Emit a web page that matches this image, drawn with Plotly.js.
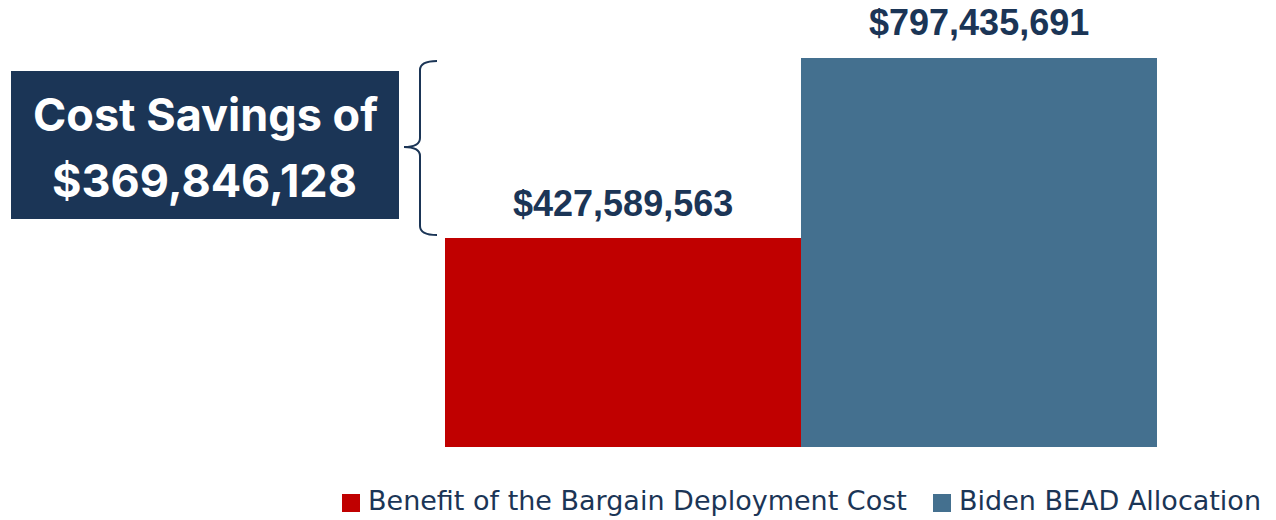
<!DOCTYPE html>
<html>
<head>
<meta charset="utf-8">
<script src="https://cdn.plot.ly/plotly-3.0.1.min.js"></script>
<style>html,body{margin:0;padding:0;background:#fff;}#chart{width:1276px;height:520px;}</style>
</head>
<body>
<div id="chart"></div>
<script>
// ---- data ----
const categories = ["Benefit of the Bargain Deployment Cost", "Biden BEAD Allocation"];
const values = [427589563, 797435691];
const barColors = ["#C00000", "#44708F"];
const savingsLabel = "Cost Savings of";

// ---- helpers ----
const W = 1276, H = 520, MB = 73, PH = H - MB;
const fmt = v => "$" + v.toLocaleString("en-US");
const px = x => x / W;
const py = y => 1 - y / PH;
const navy = "#1B3556";

const savings = values[1] - values[0];

const traces = categories.map((c, i) => ({
  type: "bar",
  name: c,
  x: [i],
  y: [values[i]],
  width: 1,
  marker: {color: barColors[i], line: {width: 0}},
  hoverinfo: "skip",
  showlegend: false
}));

const valueAnnotations = categories.map((c, i) => ({
  x: i, y: values[i], xref: "x", yref: "y",
  text: "<b>" + fmt(values[i]) + "</b>",
  showarrow: false, yanchor: "middle", yshift: 35,
  font: {family: "Liberation Sans, Arial, sans-serif", size: 36, color: navy}
}));

// manual legend (swatch x positions in px, text starts after swatch)
const legendX = [342, 933];
const legendY = 503;
const legendShapes = categories.map((c, i) => ({
  type: "rect", xref: "paper", yref: "paper",
  x0: px(legendX[i]), x1: px(legendX[i] + 18), y0: py(legendY + 9), y1: py(legendY - 9),
  fillcolor: barColors[i], line: {width: 0}
}));
const legendAnnotations = categories.map((c, i) => ({
  xref: "paper", yref: "paper", x: px(legendX[i] + 25), y: py(legendY - 3),
  xanchor: "left", yanchor: "middle", showarrow: false, text: c, borderpad: 0,
  font: {family: "DejaVu Sans, sans-serif", size: 27, color: navy}
}));

const bracePath = [
  "M", px(437), py(61),
  "Q", px(420), py(61), px(420), py(70),
  "L", px(420), py(138),
  "Q", px(420), py(147), px(404), py(147),
  "Q", px(420), py(147), px(420), py(156),
  "L", px(420), py(226),
  "Q", px(420), py(235), px(437), py(235)
].join(" ");

const layout = {
  width: W, height: H,
  margin: {l: 0, r: 0, t: 0, b: MB, pad: 0},
  paper_bgcolor: "#ffffff", plot_bgcolor: "#ffffff",
  bargap: 0,
  xaxis: {range: [-1.75, 1.834], showgrid: false, zeroline: false, showticklabels: false, showline: false, fixedrange: true},
  yaxis: {range: [0, 916e6], showgrid: false, zeroline: false, showticklabels: false, showline: false, fixedrange: true},
  showlegend: false,
  shapes: [
    {type: "rect", xref: "paper", yref: "paper", x0: px(11), x1: px(399), y0: py(219), y1: py(71),
     fillcolor: navy, line: {width: 0}, layer: "above"},
    {type: "path", xref: "paper", yref: "paper", path: bracePath,
     line: {color: navy, width: 2}, fillcolor: "rgba(0,0,0,0)", layer: "above"}
  ].concat(legendShapes),
  annotations: valueAnnotations.concat(legendAnnotations, [
    {xref: "paper", yref: "paper", x: px(205), y: py(114), text: "<b>" + savingsLabel + "</b>",
     showarrow: false, xanchor: "center", yanchor: "middle",
     font: {family: "Inter, Open Sans, sans-serif", size: 45, color: "#ffffff"}},
    {xref: "paper", yref: "paper", x: px(204), y: py(180), text: "<b>" + fmt(savings) + "</b>",
     showarrow: false, xanchor: "center", yanchor: "middle",
     font: {family: "Inter, Open Sans, sans-serif", size: 45, color: "#ffffff"}}
  ])
};

Plotly.newPlot("chart", traces, layout, {displayModeBar: false, staticPlot: true});
</script>
</body>
</html>
